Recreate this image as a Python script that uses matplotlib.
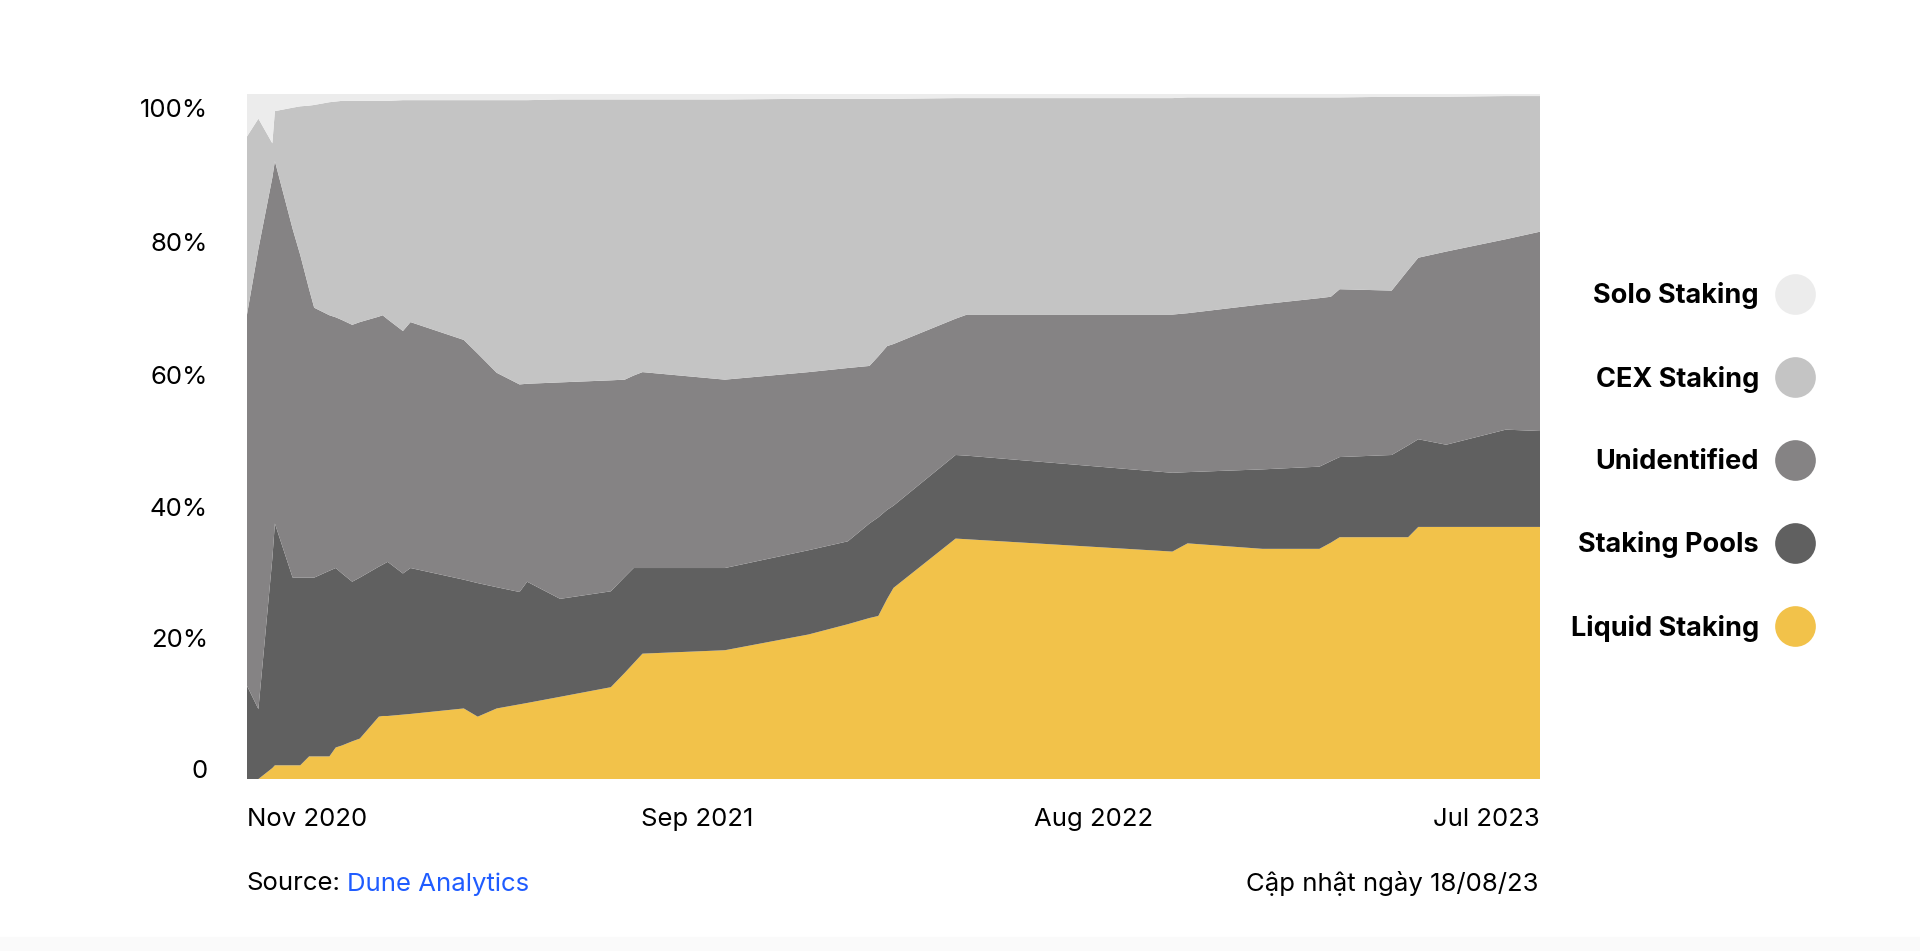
import numpy as np
import matplotlib
matplotlib.use("Agg")
import matplotlib.pyplot as plt
from matplotlib.lines import Line2D
from matplotlib.patches import Rectangle

plt.rcParams['font.family'] = ['Inter', 'DejaVu Sans']

# days since 2020-11-01
days = [0, 9, 20, 22, 36, 42, 49, 53, 65, 70, 75, 83, 89, 104, 107, 111, 123, 129,
        171, 182, 197, 215, 221, 247, 287, 298, 305, 312, 377, 443, 474, 491, 498,
        505, 510, 559, 568, 730, 742, 801, 846, 855, 862, 903, 916, 924, 946, 993, 1020]

# share of staked ETH, %
liquid = [0, 0, 1.6, 2.0, 2.0, 2.0, 3.3, 3.3, 3.3, 4.6, 4.9, 5.5, 5.9, 9.1, 9.2, 9.2,
          9.4, 9.5, 10.3, 9.1, 10.3, 10.9, 11.1, 12.0, 13.4, 15.5, 16.9, 18.3, 18.8,
          21.1, 22.6, 23.5, 23.8, 26.3, 27.9, 35.1, 35.0, 33.2, 34.4, 33.6, 33.6, 34.5,
          35.3, 35.3, 35.3, 36.8, 36.8, 36.8, 36.8]
pools = [13.6, 10.2, 30.6, 35.3, 27.4, 27.4, 26.1, 26.1, 27.1, 26.2, 25.1, 23.3, 23.5,
         21.9, 22.1, 22.5, 20.6, 21.3, 18.8, 19.5, 17.7, 16.4, 17.7, 14.3, 14.0, 14.0,
         13.9, 12.5, 12.0, 12.3, 12.1, 13.8, 14.4, 13.0, 12.0, 12.2, 12.2, 11.5, 10.4,
         11.6, 12.0, 11.9, 11.7, 12.0, 13.4, 12.8, 12.0, 14.2, 14.0]
unidentified = [54.2, 67.2, 55.6, 52.9, 50.9, 47.1, 42.1, 39.4, 37.3, 36.6, 37.0, 37.5,
                37.3, 36.5, 36.4, 35.4, 35.4, 35.9, 35.0, 33.5, 31.3, 30.3, 28.9, 31.6,
                30.8, 28.8, 28.1, 28.6, 27.5, 26.0, 25.3, 23.0, 23.5, 23.9, 23.6, 19.9,
                20.6, 23.1, 23.2, 24.1, 24.6, 24.0, 24.5, 24.0, 25.6, 26.5, 28.2, 27.8, 29.1]
cex = [26.0, 19.0, 5.0, 7.3, 17.7, 21.7, 26.8, 29.6, 31.1, 31.5, 32.0, 32.7, 32.3, 31.5,
       31.3, 31.9, 33.7, 32.4, 35.0, 37.0, 39.8, 41.5, 41.4, 41.3, 41.0, 40.9, 40.3, 39.8,
       40.9, 39.9, 39.3, 39.0, 37.6, 36.1, 35.8, 32.2, 31.6, 31.6, 31.5, 30.2, 29.3, 29.1,
       28.0, 28.3, 25.3, 23.5, 22.6, 20.9, 19.8]
solo = [6.2, 3.6, 7.2, 2.5, 2.0, 1.8, 1.7, 1.6, 1.2, 1.1, 1.0, 1.0, 1.0, 1.0, 1.0, 1.0,
        0.9, 0.9, 0.9, 0.9, 0.9, 0.9, 0.9, 0.8, 0.8, 0.8, 0.8, 0.8, 0.8, 0.7, 0.7, 0.7,
        0.7, 0.7, 0.7, 0.6, 0.6, 0.6, 0.5, 0.5, 0.5, 0.5, 0.5, 0.4, 0.4, 0.4, 0.4, 0.3, 0.3]

names = ['Liquid Staking', 'Staking Pools', 'Unidentified', 'CEX Staking', 'Solo Staking']
colors = ['#f2c24a', '#606060', '#858384', '#c4c4c4', '#ececec']

ytick_pos = [1.5, 20.6, 39.7, 59.0, 78.4, 98.0]
ytick_labels = ['0', '20%', '40%', '60%', '80%', '100%']
xtick_days = [0, 355, 668, 1020]
xtick_labels = ['Nov 2020', 'Sep 2021', 'Aug 2022', 'Jul 2023']

start = np.datetime64('2020-11-01')
dates = start + np.array(days).astype('timedelta64[D]')

fig = plt.figure(figsize=(19.2, 9.51), dpi=100)
ax = fig.add_axes([247/1920, 1 - 779/951, (1540-247)/1920, (779-94)/951])

ax.stackplot(dates, liquid, pools, unidentified, cex, solo, colors=colors, linewidth=0)
ax.set_xlim(dates[0], dates[-1])
ax.set_ylim(0, 100)

for s in ax.spines.values():
    s.set_visible(False)

ax.set_yticks(ytick_pos, ytick_labels)
ax.tick_params(axis='y', length=0, pad=28, labelsize=18.5)
ax.set_xticks(start + np.array(xtick_days).astype('timedelta64[D]'), xtick_labels)
ax.tick_params(axis='x', length=0, pad=21, labelsize=18.5)
xl = ax.get_xticklabels()
xl[0].set_ha('left')
xl[-1].set_ha('right')

# legend, top entry is Solo Staking
handles = [Line2D([], [], marker='o', linestyle='none', markersize=29.3,
                  markerfacecolor=c, markeredgewidth=0) for c in colors[::-1]]
fig.legend(handles, names[::-1], loc='center right', bbox_to_anchor=(1815/1920, 1 - 462/951),
           frameon=False, markerfirst=False, borderpad=0, borderaxespad=0,
           handlelength=1.5, handletextpad=0.57, labelspacing=2.08,
           prop={'weight': 'bold', 'size': 19.5})

t1 = fig.text(246/1920, 1 - 884/951, 'Source:', ha='left', va='center', fontsize=18.5)
ax.annotate('Dune Analytics', xy=(1, 0), xycoords=t1, xytext=(5, 0), textcoords='offset points',
            ha='left', va='bottom', color='#1f5cff', fontsize=18.5)
fig.text(1539/1920, 1 - 884/951, 'Cập nhật ngày 18/08/23', ha='right', va='center', fontsize=18.5)

fig.patches.append(Rectangle((0, 0), 1, 14/951, transform=fig.transFigure,
                             color='#fafafa', zorder=-1))

fig.savefig('out.png', dpi=100, facecolor='white')
